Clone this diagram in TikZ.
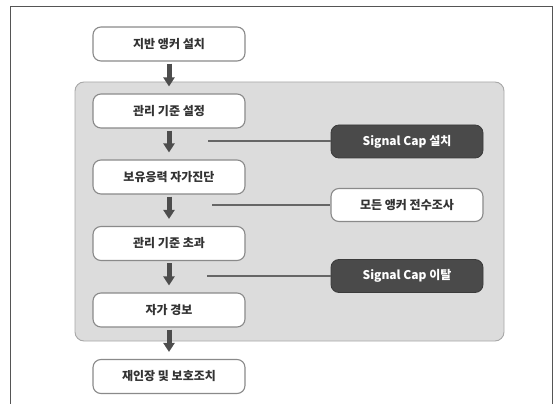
\documentclass[tikz,border=0pt]{standalone}
\usepackage{fontspec}
\newfontfamily\kr{Noto Sans CJK KR}
\usetikzlibrary{arrows.meta}
\definecolor{framec}{HTML}{555555}
\definecolor{panelfill}{HTML}{DCDCDC}
\definecolor{panelline}{HTML}{A8A8A8}
\definecolor{boxline}{HTML}{8A8A8A}
\definecolor{darkbox}{HTML}{4A4A4A}
\definecolor{linkc}{HTML}{666666}
\definecolor{arrowc}{HTML}{4D4D4D}
\definecolor{txt}{HTML}{333333}
\tikzset{
  mainbox/.style={draw=boxline, line width=1.1pt, fill=white, rounded corners=8pt,
    minimum width=152pt, minimum height=34pt, inner sep=0pt,
    font=\kr\bfseries\fontsize{12}{14}\selectfont, text=txt},
  darkbx/.style={draw=darkbox!80!black, line width=0.8pt, fill=darkbox, rounded corners=8pt,
    minimum width=152pt, minimum height=33pt, inner sep=0pt,
    font=\kr\bfseries\fontsize{12}{14}\selectfont, text=white},
  whitebx/.style={mainbox, minimum height=33pt},
  flowarrow/.style={draw=arrowc, line width=5pt, shorten <=2pt, shorten >=7pt,
    -{Triangle[length=9pt,width=11pt]}},
  linkline/.style={draw=linkc, line width=2pt}
}
\begin{document}
\begin{tikzpicture}[x=1pt,y=-1pt]
\useasboundingbox (0,0) rectangle (558,404);
\clip (0,0) rectangle (558,404);
\draw[framec, line width=1.2pt] (10.5,420) -- (10.5,6.5) -- (552.5,6.5) -- (552.5,420);
\draw[draw=panelline, fill=panelfill, line width=0.9pt, rounded corners=9pt] (75,82) rectangle (504,341);
\node[mainbox] (b1) at (169,44) {지반 앵커 설치};
\node[mainbox] (b2) at (169,111) {관리 기준 설정};
\node[mainbox] (b3) at (169,177) {보유응력 자가진단};
\node[mainbox] (b4) at (169,243.5) {관리 기준 초과};
\node[mainbox] (b5) at (169,310) {자가 경보};
\node[mainbox] (b6) at (169,376.5) {재인장 및 보호조치};
\node[darkbx] (s1) at (407,141.5) {Signal Cap 설치};
\node[whitebx] (s2) at (407,205) {모든 앵커 전수조사};
\node[darkbx] (s3) at (407,276) {Signal Cap 이탈};
\coordinate (c1) at (208,141.5);
\coordinate (c2) at (212,205);
\coordinate (c3) at (207,276);
\draw[linkline] (c1) -- (s1.west);
\draw[linkline] (c2) -- (s2.west);
\draw[linkline] (c3) -- (s3.west);
\draw[flowarrow] (b1) -- (b2);
\draw[flowarrow] (b2) -- (b3);
\draw[flowarrow] (b3) -- (b4);
\draw[flowarrow] (b4) -- (b5);
\draw[flowarrow] (b5) -- (b6);
\end{tikzpicture}
\end{document}
